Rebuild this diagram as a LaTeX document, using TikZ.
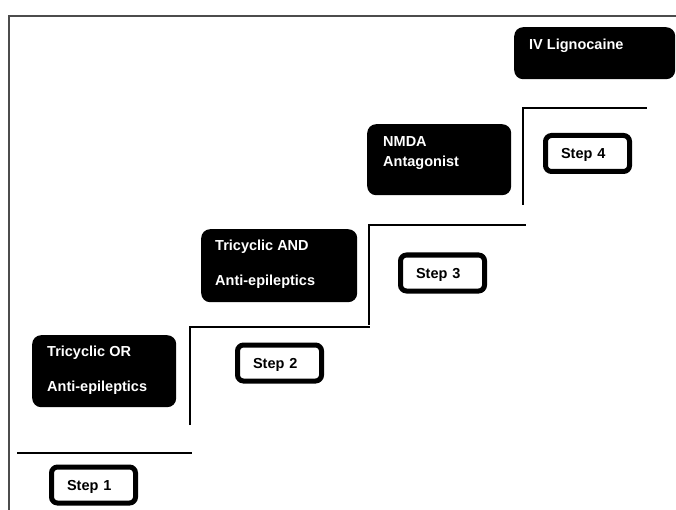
\documentclass[tikz,border=0pt]{standalone}
\usepackage{fontspec}
\setmainfont{Liberation Sans}
\usepackage{tikz}
\usetikzlibrary{positioning}
\definecolor{rahmengrau}{rgb}{0.30,0.30,0.30}

\begin{document}
\begin{tikzpicture}[x=1pt, y=-1pt] % 1 Einheit = 1 Pixel, y nach unten
\tikzset{
  stufe/.style={line width=2.2pt, black},
  medbox/.style={fill=black, rounded corners=9pt, anchor=north west, inner sep=0pt},
  medtext/.style={text=white, font=\bfseries\fontsize{14.5}{17}\selectfont, anchor=base west, inner sep=0pt},
  stepbox/.style={draw=black, line width=5pt, fill=white, rounded corners=6pt, minimum width=84, minimum height=36,
    text width=53, inner xsep=15.5pt, align=left, text depth=0pt, font=\bfseries\fontsize{14.5}{17}\selectfont}
}
\useasboundingbox (0,0) rectangle (676,510);

% Rahmen
\draw[rahmengrau, line width=1.8pt] (9,510) -- (9,16) -- (676,16);

% Treppe
\coordinate (s1a) at (17,453);
\coordinate (s1b) at (192,453);
\draw[stufe] (s1a) -- (s1b);
\foreach \x/\yu/\yo/\xe/\n in {190/425/327/370/2, 369/325/225/526/3, 523/205/108/647/4} {
  \coordinate (s\n u) at (\x,\yu);
  \coordinate (s\n o) at (\x,\yo);
  \coordinate (s\n e) at (\xe,\yo);
  \draw[stufe] (s\n u) -- (s\n o) -- (s\n e); % Stufe \n
}

% Stufen-Kaesten
\node[stepbox] (step1) at (93.5,485) {Step 1};
\node[stepbox] (step2) at (279.5,363) {Step 2};
\node[stepbox] (step3) at (442.5,273) {Step 3};
\node[stepbox] (step4) at (587.5,153.5) {Step 4};

% Medikamente
\node[medbox, minimum width=144, minimum height=72] (med1) at (32,335) {};
\node[medbox, minimum width=156, minimum height=73] (med2) at (201,229) {};
\node[medbox, minimum width=144, minimum height=71] (med3) at (367,124) {};
\node[medbox, minimum width=161, minimum height=52] (med4) at (514,27) {};

\node[medtext] (med1a) at ([shift={(15,21)}]med1.north west) {Tricyclic OR};
\node[medtext] (med1b) at ([shift={(15,56)}]med1.north west) {Anti-epileptics};
\node[medtext] (med2a) at ([shift={(14,22)}]med2.north west) {Tricyclic AND};
\node[medtext] (med2b) at ([shift={(14,56)}]med2.north west) {Anti-epileptics};
\node[medtext] (med3a) at ([shift={(16,23)}]med3.north west) {NMDA};
\node[medtext] (med3b) at ([shift={(16,43)}]med3.north west) {Antagonist};
\node[medtext] (med4a) at ([shift={(15,23)}]med4.north west) {IV Lignocaine};

\end{tikzpicture}
\end{document}
